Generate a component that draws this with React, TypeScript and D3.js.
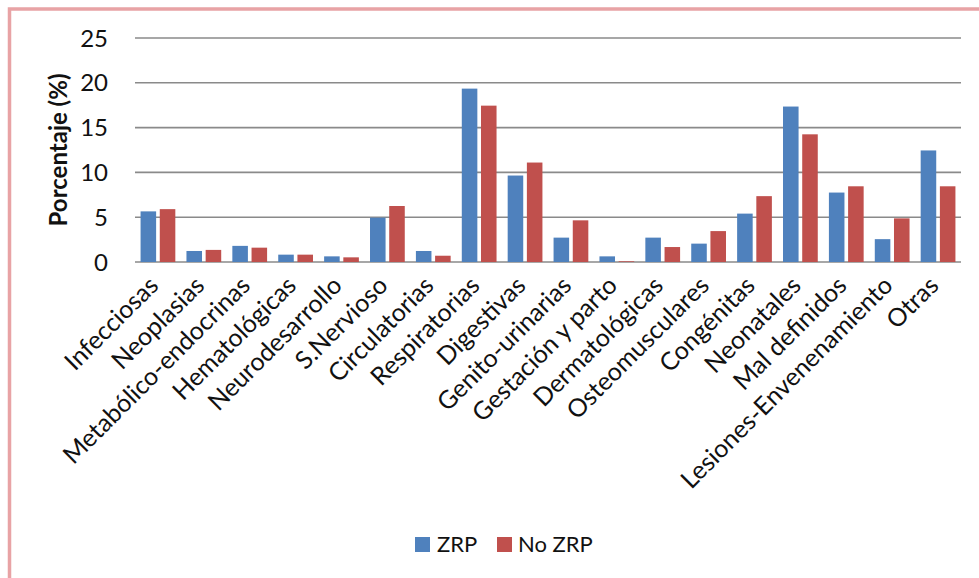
import React from "react";
import * as d3 from "d3";

// Causas de egreso por grupo diagnóstico, porcentaje por zona
const categories: string[] = [
  "Infecciosas",
  "Neoplasias",
  "Metabólico-endocrinas",
  "Hematológicas",
  "Neurodesarrollo",
  "S.Nervioso",
  "Circulatorias",
  "Respiratorias",
  "Digestivas",
  "Genito-urinarias",
  "Gestación y parto",
  "Dermatológicas",
  "Osteomusculares",
  "Congénitas",
  "Neonatales",
  "Mal definidos",
  "Lesiones-Envenenamiento",
  "Otras",
];

const zrp: number[] = [5.65, 1.23, 1.8, 0.82, 0.63, 4.95, 1.23, 19.35, 9.65, 2.72, 0.63, 2.72, 2.05, 5.4, 17.35, 7.75, 2.55, 12.45];
const noZrp: number[] = [5.9, 1.35, 1.6, 0.82, 0.52, 6.25, 0.7, 17.45, 11.1, 4.65, 0.08, 1.67, 3.45, 7.35, 14.25, 8.45, 4.87, 8.45];

const seriesNames: string[] = ["ZRP", "No ZRP"];
const seriesColors: string[] = ["#4F81BD", "#C0504D"];
const yTicks: number[] = [0, 5, 10, 15, 20, 25];

const W = 979;
const H = 578;
const FONT = "Lato, 'Open Sans', sans-serif";
const INK = "#111";

export default function App() {
  const x0 = d3.scaleBand<string>().domain(categories).range([135, 961]).padding(0);
  const x1 = d3
    .scaleBand<string>()
    .domain(seriesNames)
    .range([0, x0.bandwidth()])
    .paddingInner(0.19)
    .paddingOuter(0.29);
  const y = d3.scaleLinear().domain([0, 25]).range([262, 38]);
  const color = d3.scaleOrdinal<string, string>().domain(seriesNames).range(seriesColors);
  const values = [zrp, noZrp];

  return (
    <div style={{ position: "absolute", left: 0, top: 0 }}>
      <svg width={W} height={H} style={{ display: "block", background: "#fff" }}>
        {/* chart frame */}
        <rect x={9.5} y={9} width={1000} height={600} fill="none" stroke="#e8a3a5" strokeWidth={3.5} />

        {/* horizontal gridlines */}
        {yTicks.map((t) => (
          <line key={t} x1={135} x2={961} y1={y(t)} y2={y(t)} stroke="#8a8a8a" strokeWidth={1.6} />
        ))}

        {/* y tick labels */}
        {yTicks.map((t) => (
          <text
            key={"l" + t}
            x={108}
            y={y(t)}
            dy="0.36em"
            textAnchor="end"
            fontFamily={FONT}
            fontSize={24}
            fill={INK}
          >
            {t}
          </text>
        ))}

        {/* axis title */}
        <text
          transform={`translate(67,150) rotate(-90)`}
          textAnchor="middle"
          fontFamily={FONT}
          fontSize={24}
          fontWeight={700}
          fill={INK}
        >
          Porcentaje (%)
        </text>

        {/* bars */}
        {categories.map((c, i) => (
          <g key={c} transform={`translate(${x0(c)},0)`}>
            {seriesNames.map((s, j) => {
              const v = values[j][i];
              return (
                <rect
                  key={s}
                  x={x1(s)}
                  y={y(v)}
                  width={x1.bandwidth()}
                  height={y(0) - y(v)}
                  fill={color(s)}
                />
              );
            })}
          </g>
        ))}

        {/* category labels */}
        {categories.map((c) => {
          const cx = (x0(c) as number) + x0.bandwidth() / 2 + 2;
          return (
            <text
              key={"c" + c}
              transform={`translate(${cx},${287}) rotate(-45)`}
              textAnchor="end"
              fontFamily={FONT}
              fontSize={25}
              fill={INK}
            >
              {c}
            </text>
          );
        })}

        {/* legend */}
        <g>
          <rect x={415} y={537} width={15} height={15} fill={seriesColors[0]} />
          <text x={437} y={552} fontFamily={FONT} fontSize={22} fill={INK}>
            {seriesNames[0]}
          </text>
          <rect x={497} y={537} width={15} height={15} fill={seriesColors[1]} />
          <text x={518} y={552} fontFamily={FONT} fontSize={22} fill={INK}>
            {seriesNames[1]}
          </text>
        </g>
      </svg>
    </div>
  );
}
